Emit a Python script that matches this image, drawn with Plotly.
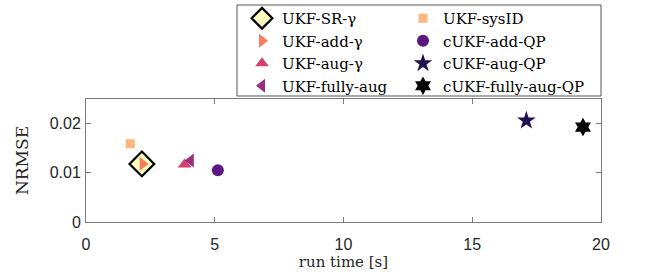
import plotly.graph_objects as go

names = ["UKF-SR-γ", "UKF-sysID", "UKF-add-γ", "UKF-aug-γ", "UKF-fully-aug",
         "cUKF-add-QP", "cUKF-aug-QP", "cUKF-fully-aug-QP"]
run_time = [2.17, 1.72, 2.2, 3.83, 4.07, 5.12, 17.1, 19.3]
nrmse = [0.0118, 0.0159, 0.0118, 0.0117, 0.0125, 0.0105, 0.0206, 0.0193]
legend_ids = ["legend", "legend2", "legend", "legend", "legend",
              "legend2", "legend2", "legend2"]

symbols = ["diamond", "square", "triangle-right", "triangle-up", "triangle-left",
           "circle", "star", "hexagram"]
colors = ["#FCFDBF", "#FEB67C", "#F97B5D", "#D3436E", "#9B2E7F",
          "#5C167F", "#221150", "#000000"]
sizes = [19, 9, 12, 12, 12, 12, 14, 14]
line_w = [2.2, 0, 0, 0, 0, 0, 0, 0]

W, H = 664, 279
L, R, T, B = 86, 63, 99, 57
PW, PH = W - L - R, H - T - B

fig = go.Figure()
for n, x, y, lg, s, c, sz, lw in zip(names, run_time, nrmse, legend_ids,
                                     symbols, colors, sizes, line_w):
    fig.add_trace(go.Scatter(
        x=[x], y=[y], mode="markers", name=n, legend=lg,
        marker=dict(symbol=s, color=c, size=sz,
                    line=dict(color="black", width=lw)),
    ))

axis_common = dict(
    showline=True, mirror="ticks", linecolor="#7a7a7a", linewidth=1,
    ticks="inside", ticklen=5, tickcolor="#7a7a7a",
    showgrid=False, zeroline=False,
    tickfont=dict(family="Liberation Sans", size=16, color="#262626"),
)

legend_font = dict(family="DejaVu Serif", size=15, color="black")

fig.update_layout(
    width=W, height=H,
    margin=dict(l=L, r=R, t=T, b=B, autoexpand=False),
    plot_bgcolor="white", paper_bgcolor="white",
    xaxis=dict(range=[0, 20], tickvals=[0, 5, 10, 15, 20], ticklabelstandoff=8,
               title=dict(text="run time [s]", standoff=2,
                          font=dict(family="DejaVu Serif", size=15, color="#262626")),
               **axis_common),
    yaxis=dict(range=[0, 0.025], tickvals=[0, 0.01, 0.02],
               ticktext=["0", "0.01", "0.02"], ticklabelstandoff=1,
               title=dict(text="NRMSE", standoff=16,
                          font=dict(family="DejaVu Serif", size=17, color="#262626")),
               **axis_common),
    legend=dict(x=(242 - L) / PW, y=(H - B - 2) / PH, xanchor="left", yanchor="top",
                bgcolor="rgba(0,0,0,0)", borderwidth=0, font=legend_font),
    legend2=dict(x=(403 - L) / PW, y=(H - B - 2) / PH, xanchor="left", yanchor="top",
                 bgcolor="rgba(0,0,0,0)", borderwidth=0, font=legend_font),
    shapes=[dict(type="rect", xref="paper", yref="paper",
                 x0=(237 - L) / PW, x1=1.0,
                 y0=(H - B - 96) / PH, y1=(H - B - 5) / PH,
                 line=dict(color="#555555", width=1), fillcolor="rgba(0,0,0,0)")],
    showlegend=True,
)

fig.write_html("out.html", config={"displayModeBar": False},
               post_script="document.body.style.margin='0';")
